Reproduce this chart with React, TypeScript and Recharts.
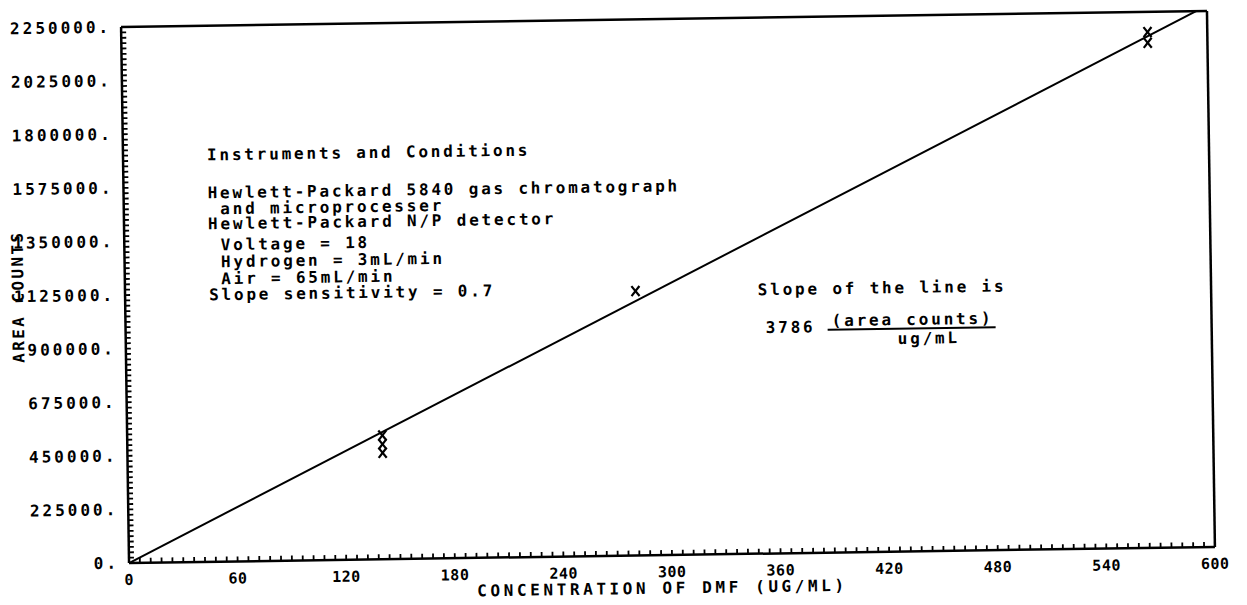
import React from "react"
import { ComposedChart, XAxis, YAxis, Scatter, ReferenceLine } from "recharts"

// tick labels
const xLabels = [0, 60, 120, 180, 240, 300, 360, 420, 480, 540, 600]
const yLabels = [0, 225000, 450000, 675000, 900000, 1125000, 1350000, 1575000, 1800000, 2025000, 2250000]
const MINOR_PER_MAJOR = 10

// measured standards (concentration ug/mL, area counts)
const concentration = [141, 141, 141, 282, 567, 567]
const areaCounts = [520000, 483000, 447000, 1110000, 2165000, 2120000]

// fitted line end points (slope 3786)
const fitX = [0, 594]
const fitY = [0, 2250000]

const notes = [
  "Instruments and Conditions",
  "Hewlett-Packard 5840 gas chromatograph",
  " and microprocesser",
  "Hewlett-Packard N/P detector",
  " Voltage = 18",
  " Hydrogen = 3mL/min",
  " Air = 65mL/min",
  "Slope sensitivity = 0.7",
]
const noteY = [140, 178, 194, 209, 230, 247, 264, 280]

const points = concentration.map((x, i) => ({ x, y: areaCounts[i] }))
const fitLine = fitX.map((x, i) => ({ x, y: fitY[i] }))

function withMinor(major: number[]) {
  const out: number[] = []
  for (let i = 0; i < major.length - 1; i++) {
    for (let k = 0; k < MINOR_PER_MAJOR; k++) {
      out.push(major[i] + ((major[i + 1] - major[i]) * k) / MINOR_PER_MAJOR)
    }
  }
  out.push(major[major.length - 1])
  return out
}

const xTicks = withMinor(xLabels)
const yTicks = withMinor(yLabels)

const CHART_W = 1231
const CHART_H = 589
const MARGIN = { top: 11, right: 28, bottom: 0, left: 0 }
const Y_AXIS_W = 117
const X_AXIS_H = 42
const PLOT_TOP = MARGIN.top
const TICK = 5
const X_LABEL_GAP = 22
const Y_LABEL_GAP = 15

const FONT = "'DejaVu Sans Mono', monospace"
const tickLineStyle = { stroke: "#000", strokeWidth: 1.8 }
const axisLineStyle = { stroke: "#000", strokeWidth: 2.5 }

const noteStyle: React.CSSProperties = {
  fontFamily: FONT,
  fontWeight: "bold",
  fontSize: 16,
  letterSpacing: 2.8,
  whiteSpace: "pre",
}

function BottomLabel(props: any) {
  const { x, y, payload } = props
  const major = xLabels.includes(payload.value)
  const last = payload.value === xLabels[xLabels.length - 1]
  const axisY = y + TICK - X_LABEL_GAP
  return (
    <g>
      {last && <rect x={x - 1.25} y={PLOT_TOP} width={2.5} height={axisY - PLOT_TOP} fill="#000" />}
      {major && (
        <text
          x={x}
          y={y}
          textAnchor="middle"
          dominantBaseline="central"
          fill="#000"
          style={{ fontFamily: FONT, fontWeight: "bold", fontSize: 15, letterSpacing: 0.5 }}
        >
          {payload.value}
        </text>
      )}
    </g>
  )
}

function LeftLabel(props: any) {
  const { x, y, payload } = props
  if (!yLabels.includes(payload.value)) return <g />
  return (
    <text
      x={x}
      y={y}
      textAnchor="end"
      dominantBaseline="central"
      fill="#000"
      style={{ fontFamily: FONT, fontWeight: "bold", fontSize: 16, letterSpacing: 3 }}
    >
      {`${payload.value}.`}
    </text>
  )
}

function XMark(props: any) {
  const { cx, cy } = props
  if (cx == null || cy == null) return <g />
  return (
    <g stroke="#000" strokeWidth={2.2}>
      <line x1={cx - 4} y1={cy - 5} x2={cx + 4} y2={cy + 5} />
      <line x1={cx + 4} y1={cy - 5} x2={cx - 4} y2={cy + 5} />
    </g>
  )
}

function Annotations() {
  return (
    <svg
      width={CHART_W}
      height={CHART_H}
      style={{ position: "absolute", left: 0, top: 0, pointerEvents: "none" }}
    >
      <g fill="#000">
        <text
          x={10}
          y={279}
          textAnchor="middle"
          dominantBaseline="central"
          transform="rotate(-90 10 279)"
          style={{ fontFamily: FONT, fontWeight: "bold", fontSize: 16, letterSpacing: 2.4 }}
        >
          AREA COUNTS
        </text>
        <text
          x={650}
          y={580}
          textAnchor="middle"
          dominantBaseline="central"
          style={{ fontFamily: FONT, fontWeight: "bold", fontSize: 16, letterSpacing: 3.6 }}
        >
          CONCENTRATION OF DMF (UG/ML)
        </text>
        {notes.map((t, i) => (
          <text key={i} x={201} y={noteY[i]} dominantBaseline="central" style={noteStyle}>
            {t}
          </text>
        ))}
        <text x={874} y={283} textAnchor="middle" dominantBaseline="central" style={noteStyle}>
          Slope of the line is
        </text>
        <text x={782} y={321} textAnchor="middle" dominantBaseline="central" style={noteStyle}>
          3786
        </text>
        <text x={904} y={315} textAnchor="middle" dominantBaseline="central" style={noteStyle}>
          (area counts)
        </text>
        <line x1={819} x2={987} y1={324} y2={324} stroke="#000" strokeWidth={2} />
        <text x={920} y={334} textAnchor="middle" dominantBaseline="central" style={noteStyle}>
          ug/mL
        </text>
      </g>
    </svg>
  )
}

export default function App() {
  return (
    <div style={{ width: CHART_W, height: CHART_H, overflow: "hidden", background: "#fff" }}>
      <div style={{ position: "relative", transform: "rotate(-0.85deg)", transformOrigin: "660px 279px" }}>
        <ComposedChart width={CHART_W} height={CHART_H} margin={MARGIN}>
          <XAxis
            dataKey="x"
            type="number"
            domain={[0, 600]}
            ticks={xTicks}
            interval={0}
            height={X_AXIS_H}
            tickSize={-TICK}
            tickMargin={X_LABEL_GAP}
            tickLine={tickLineStyle}
            axisLine={axisLineStyle}
            tick={BottomLabel}
          />
          <XAxis
            xAxisId="top"
            orientation="top"
            type="number"
            domain={[0, 600]}
            allowDataOverflow
            ticks={xTicks}
            interval={0}
            height={0}
            tickSize={-TICK}
            tickLine={tickLineStyle}
            axisLine={axisLineStyle}
            tick={false}
          />
          <YAxis
            dataKey="y"
            type="number"
            domain={[0, 2250000]}
            ticks={yTicks}
            interval={0}
            width={Y_AXIS_W}
            tickSize={-TICK}
            tickMargin={Y_LABEL_GAP}
            tickLine={tickLineStyle}
            axisLine={axisLineStyle}
            tick={LeftLabel}
          />
          <YAxis
            yAxisId="right"
            orientation="right"
            type="number"
            domain={[0, 2250000]}
            allowDataOverflow
            ticks={yTicks}
            interval={0}
            width={0}
            tickSize={-TICK}
            tickLine={tickLineStyle}
            axisLine={axisLineStyle}
            tick={false}
          />
          <ReferenceLine y={2250000} stroke="#000" strokeWidth={2.5} />
          <Scatter
            data={fitLine}
            line={{ stroke: "#000", strokeWidth: 2 }}
            shape={() => <g />}
            isAnimationActive={false}
          />
          <Scatter data={points} shape={(p: any) => <XMark {...p} />} isAnimationActive={false} />
        </ComposedChart>
        <Annotations />
      </div>
    </div>
  )
}
